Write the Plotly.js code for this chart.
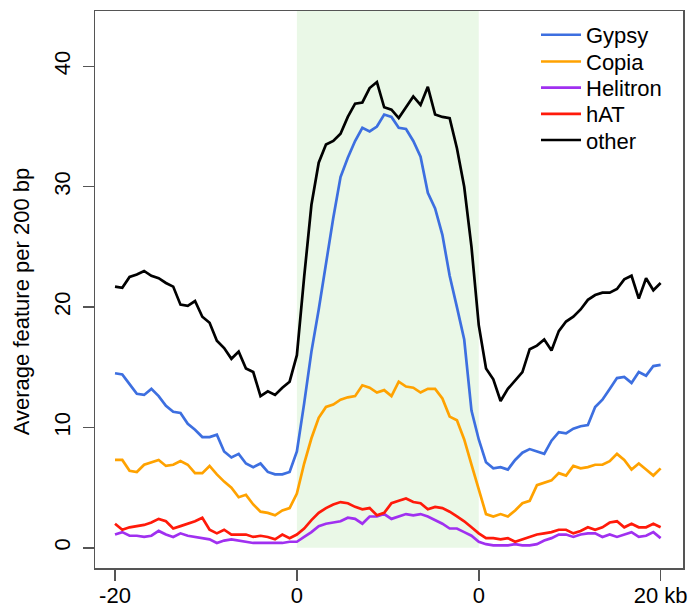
<!DOCTYPE html>
<html>
<head>
<meta charset="utf-8">
<script src="https://cdn.plot.ly/plotly-3.0.1.min.js"></script>
<style>
  html, body { margin: 0; padding: 0; background: #ffffff; }
  #chart { width: 696px; height: 613px; }
</style>
</head>
<body>
<div id="chart"></div>
<script>
// bin positions: 0 = -20 kb, 100 = gene start, 200 = gene end, 300 = +20 kb
const positions = [0,4,8,12,16,20,24,28,32,36,40,44,48,52,56,60,64,68,72,76,80,84,88,92,96,
  100,104,108,112,116,120,124,128,132,136,140,144,148,152,156,160,164,168,172,176,180,184,188,192,196,
  200,204,208,212,216,220,224,228,232,236,240,244,248,252,256,260,264,268,272,276,280,284,288,292,296,300];

const seriesNames = ["Gypsy", "Copia", "Helitron", "hAT", "other"];

const gypsy = [14.5,14.4,13.6,12.8,12.7,13.2,12.6,11.8,11.3,11.2,10.3,9.8,9.2,9.2,9.4,8.0,7.5,7.8,7.0,6.7,7.0,6.3,6.1,6.1,6.3,
  8.0,12.0,16.3,19.8,23.8,27.4,30.8,32.4,33.8,34.9,34.6,35.0,36.0,35.8,34.9,34.8,33.8,32.5,29.5,28.2,26.0,22.6,20.0,17.3,11.4,
  9.0,7.1,6.6,6.7,6.5,7.3,7.9,8.2,8.0,7.8,8.9,9.6,9.5,9.9,10.1,10.2,11.7,12.3,13.2,14.1,14.2,13.7,14.6,14.3,15.1,15.2];

const copia = [7.3,7.3,6.4,6.3,6.9,7.1,7.3,6.8,6.9,7.2,6.9,6.2,6.2,6.8,6.1,5.5,5.0,4.2,4.4,3.6,3.0,2.9,2.7,3.1,3.3,
  4.5,7.0,9.1,10.8,11.7,11.9,12.3,12.5,12.6,13.5,13.3,12.9,13.1,12.6,13.8,13.4,13.3,12.9,13.2,13.2,12.4,10.9,10.6,9.0,6.9,
  4.8,2.8,2.6,2.8,2.6,3.1,3.7,3.9,5.2,5.4,5.6,6.2,6.0,6.8,6.6,6.7,6.9,6.9,7.2,7.8,7.3,6.5,7.0,6.5,6.0,6.6];

const helitron = [1.1,1.3,1.0,1.0,0.9,1.0,1.4,1.1,0.9,1.2,1.0,0.9,0.8,0.7,0.4,0.6,0.7,0.6,0.5,0.4,0.4,0.4,0.4,0.4,0.5,
  0.5,0.9,1.3,1.8,2.0,2.1,2.2,2.5,2.4,2.0,2.6,2.6,2.8,2.4,2.6,2.8,2.7,2.8,2.6,2.3,2.0,1.6,1.6,1.3,1.0,
  0.5,0.3,0.2,0.2,0.2,0.3,0.2,0.2,0.3,0.6,0.8,1.1,1.1,0.9,1.1,1.2,1.2,0.9,1.1,0.9,1.1,1.3,0.9,1.0,1.3,0.8];

const hat = [2.0,1.5,1.7,1.8,1.9,2.1,2.4,2.2,1.6,1.8,2.0,2.2,2.5,1.5,1.2,1.5,1.1,1.1,1.1,0.9,1.0,0.9,0.7,1.1,0.8,
  1.1,1.6,2.3,2.9,3.3,3.6,3.8,3.7,3.4,3.2,3.3,2.7,2.9,3.7,3.9,4.1,3.8,3.7,3.2,3.4,3.3,3.0,2.6,2.2,1.7,
  1.2,0.8,0.8,0.7,0.8,0.5,0.7,0.9,1.1,1.2,1.3,1.5,1.5,1.2,1.4,1.7,1.5,1.7,2.1,2.2,1.7,2.0,1.7,1.7,2.0,1.7];

const other = [21.7,21.6,22.5,22.7,23.0,22.6,22.4,22.0,21.7,20.2,20.1,20.5,19.2,18.7,17.2,16.6,15.7,16.3,14.9,14.6,12.6,13.0,12.7,13.3,13.8,
  16.0,22.5,28.5,32.0,33.5,33.8,34.4,35.8,36.9,37.0,38.2,38.7,36.6,36.4,35.7,36.6,37.5,36.8,38.3,36.0,35.8,35.7,33.2,30.0,25.0,
  18.5,14.9,14.0,12.2,13.2,13.9,14.6,16.5,16.8,17.3,16.4,18.0,18.8,19.2,19.8,20.6,21.0,21.2,21.2,21.5,22.3,22.6,20.7,22.4,21.4,22.0];

const xTickVals = [0, 100, 200, 300];
const xTickText = ["-20", "0", "0", "20 kb"];
const yTickVals = [0, 10, 20, 30, 40];

const colors = ["#3d6fe0", "#ffa200", "#a030f0", "#ff1a0a", "#000000"];
const allValues = [gypsy, copia, helitron, hat, other];
const legendIds = ["legend", "legend2", "legend3", "legend4", "legend5"];
// vertical centre of each legend row, in paper units
const legendRowY = [0.957, 0.909, 0.862, 0.815, 0.768];

const traces = allValues.map((vals, k) => ({
  type: "scatter",
  mode: "lines",
  x: positions,
  y: vals,
  name: seriesNames[k],
  legend: legendIds[k],
  line: { color: colors[k], width: 2.7 },
  hoverinfo: "skip"
}));

const yTop = 44.6;
const FONT = "Liberation Sans, Arial, sans-serif";

const layout = {
  width: 696,
  height: 613,
  margin: { l: 95, r: 13, t: 11, b: 45 },
  paper_bgcolor: "#ffffff",
  plot_bgcolor: "#ffffff",
  font: { family: FONT, size: 22, color: "#000000" },
  showlegend: true,
  xaxis: {
    range: [-11, 312.3],
    tickvals: xTickVals,
    ticktext: xTickText,
    ticks: "outside",
    ticklen: 11,
    tickwidth: 1.5,
    tickcolor: "#555555",
    ticklabelstandoff: -4,
    showgrid: false,
    zeroline: false,
    showline: true,
    linecolor: "#555555",
    linewidth: 1.5,
    mirror: true,
    tickfont: { family: FONT, size: 22, color: "#000000" }
  },
  yaxis: {
    range: [-1.68, yTop],
    tickvals: yTickVals,
    ticks: "outside",
    ticklen: 11,
    tickwidth: 1.5,
    tickcolor: "#555555",
    tickangle: -90,
    ticklabelstandoff: 4,
    showgrid: false,
    zeroline: false,
    showline: true,
    linecolor: "#555555",
    linewidth: 1.5,
    mirror: true,
    tickfont: { family: FONT, size: 22, color: "#000000" }
  },
  shapes: [{
    type: "rect",
    xref: "x", yref: "y",
    x0: xTickVals[1], x1: xTickVals[2],
    y0: 0, y1: yTop,
    fillcolor: "#eaf8e7",
    line: { width: 0 },
    layer: "below"
  }],
  annotations: [{
    text: "Average feature per 200 bp",
    xref: "paper", yref: "paper",
    x: -0.125, y: 0.478,
    xanchor: "center", yanchor: "middle",
    textangle: -90,
    showarrow: false,
    font: { family: FONT, size: 22, color: "#000000" }
  }]
};

legendIds.forEach((id, k) => {
  layout[id] = {
    x: 0.75, xanchor: "left",
    y: legendRowY[k], yanchor: "middle",
    bgcolor: "rgba(0,0,0,0)",
    borderwidth: 0,
    font: { family: FONT, size: 22, color: "#000000" },
    itemwidth: 40
  };
});

Plotly.newPlot("chart", traces, layout, { displayModeBar: false, staticPlot: true });
</script>
</body>
</html>
